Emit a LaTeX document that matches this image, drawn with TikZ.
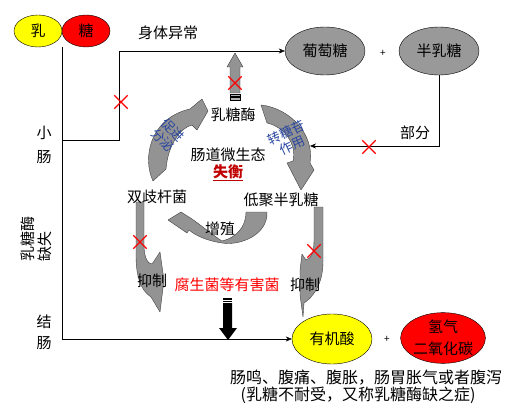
\documentclass[tikz,border=0pt]{standalone}
\usepackage{fontspec}
\setmainfont{Noto Sans CJK SC}
\usetikzlibrary{shapes.geometric,shapes.misc,arrows.meta}
\definecolor{lacyellow}{RGB}{255,255,0}
\definecolor{lacred}{RGB}{255,0,0}
\definecolor{darkred}{RGB}{192,0,0}
\definecolor{wordblue}{RGB}{40,70,160}
\begin{document}
\begin{tikzpicture}[x=1pt,y=-1pt,
    font=\fontsize{15}{18}\selectfont,
    bubble/.style={ellipse,draw,thin,inner sep=0pt},
    sugar/.style={bubble,fill=gray!80,minimum width=80pt,minimum height=48pt},
    flow/.style={-{Stealth[length=6pt,width=5pt]}},
    xmark/.style={cross out,draw=red,line width=1.3pt,minimum size=12pt,inner sep=0pt},
    band/.style={fill=gray!85,draw=black!75,line join=round},
    curl/.style={font=\fontsize{13}{14}\selectfont,text=wordblue,align=center,inner sep=0pt}]
\useasboundingbox (0,0) rectangle (508,406);

% lactose
\node[bubble,fill=lacyellow,minimum width=48pt,minimum height=32pt] (ru) at (38,31) {乳};
\node[bubble,fill=lacred,minimum width=48pt,minimum height=32pt] (tang) at (86,31) {糖};
\node (abnormal) at (168,33) {身体异常};

% small intestine
\node[sugar] (glu) at (325,51) {葡萄糖};
\node[font=\fontsize{10}{12}\selectfont] (plus1) at (383,53) {+};
\node[sugar] (gal) at (439,51) {半乳糖};
\node (part) at (415,133) {部分};

\node[align=center,font=\fontsize{15}{24}\selectfont] (small) at (44,145) {小\\肠};
\node[rotate=90,align=left,font=\fontsize{15}{17}\selectfont] (lack) at (36,239) {乳糖酶\\缺失};
\node[align=center,font=\fontsize{15}{21}\selectfont] (colon) at (44,332) {结\\肠};

\coordinate (top) at (62,47);
\coordinate (branch) at (62,140);
\coordinate (bend) at (119,51);
\coordinate (galend) at (310,146);

\draw[flow] (branch) -| (bend) -- (glu.west);
\draw[flow] (gal.south) |- (galend);

% gut flora cycle
\draw[band] (153,181) .. controls (142,158) and (150,118) .. (190,109) -- (202,99) -- (208,111)
    -- (197,130) -- (192,125) .. controls (180,128) and (168,145) .. (166,169) -- cycle;
\draw[band] (261,105) .. controls (290,108) and (315,135) .. (310,163) -- (314,170) -- (301,190)
    -- (287,163) -- (293,161) .. controls (297,145) and (285,127) .. (267,123) -- cycle;
\draw[band] (246,212) -- (267,212) .. controls (268,235) and (240,246) .. (222,243)
    .. controls (208,241) and (196,236) .. (189,230) -- (187,233) -- (168,220) -- (181,212)
    -- (192,219) .. controls (202,226) and (214,236) .. (222,241)
    .. controls (235,238) and (246,228) .. (246,212) -- cycle;
\draw[band] (136,202) -- (144,202) -- (144,245) .. controls (144,258) and (148,264) .. (152,264)
    -- (160,252) -- (164,280) -- (160,312) -- (151,297) .. controls (140,290) and (136,275) .. (136,255) -- cycle;
\draw[band] (314,207) -- (323,207) -- (323,262) .. controls (323,285) and (312,298) .. (304,303)
    -- (303,317) -- (300,295) -- (300,270) -- (302,254) -- (306,260)
    .. controls (312,258) and (314,252) .. (314,240) -- cycle;

% up arrow to body
\draw[band] (230,93) -- (230,67) -- (227,67) -- (235,53) -- (243,67) -- (240,67) -- (240,93) -- cycle;
\filldraw[fill=gray!60,draw=black] (230,94) rectangle (240,96.5);
\filldraw[fill=gray!60,draw=black] (230,97.5) rectangle (240,100);

\node (enzyme) at (233,115) {乳糖酶};
\node (flora) at (228,155) {肠道微生态};
\node[text=darkred,font=\fontsize{15}{18}\selectfont\bfseries] (imbal) at (228,173) {\underline{失衡}};
\node[curl,rotate=-45] (promote) at (168,135) {促进\\分泌};
\node[curl,rotate=25] (transg) at (289,139) {转糖苷\\作用};
\node (bifido) at (157,197) {双歧杆菌};
\node (gos) at (281,200) {低聚半乳糖};
\node (grow) at (220,229) {增殖};
\node (inhibl) at (152,281) {抑制};
\node (inhibr) at (305,285) {抑制};
\node[text=red] (harm) at (227,285) {腐生菌等有害菌};

% down arrow
\fill (223,298) rectangle (232,299.5);
\fill (223,300.5) rectangle (232,302);
\fill (223,303) -- (232,303) -- (232,328) -- (237,328) -- (228,340) -- (219,328) -- (223,328) -- cycle;

% colon
\node[bubble,fill=lacyellow,minimum width=80pt,minimum height=50pt] (acid) at (332,339) {有机酸};
\node[font=\fontsize{10}{12}\selectfont] (plus2) at (387,339) {+};
\node[bubble,fill=lacred,minimum width=80pt,minimum height=50pt,align=center,font=\fontsize{15}{22}\selectfont] (gas) at (443,338) {氢气\\二氧化碳};
\draw[flow] (top) |- (acid.west);

\node[font=\fontsize{16}{18}\selectfont] (symp) at (366,378) {肠鸣、腹痛、腹胀，肠胃胀气或者腹泻};
\node[font=\fontsize{16}{18}\selectfont] (note) at (358,395) {(乳糖不耐受，又称乳糖酶缺之症)};

% blocked
\node[xmark] (x1) at (121,102) {};
\node[xmark] (x2) at (235,83) {};
\node[xmark] (x3) at (369,147) {};
\node[xmark] (x4) at (140,242) {};
\node[xmark] (x5) at (314,251) {};
\end{tikzpicture}
\end{document}
